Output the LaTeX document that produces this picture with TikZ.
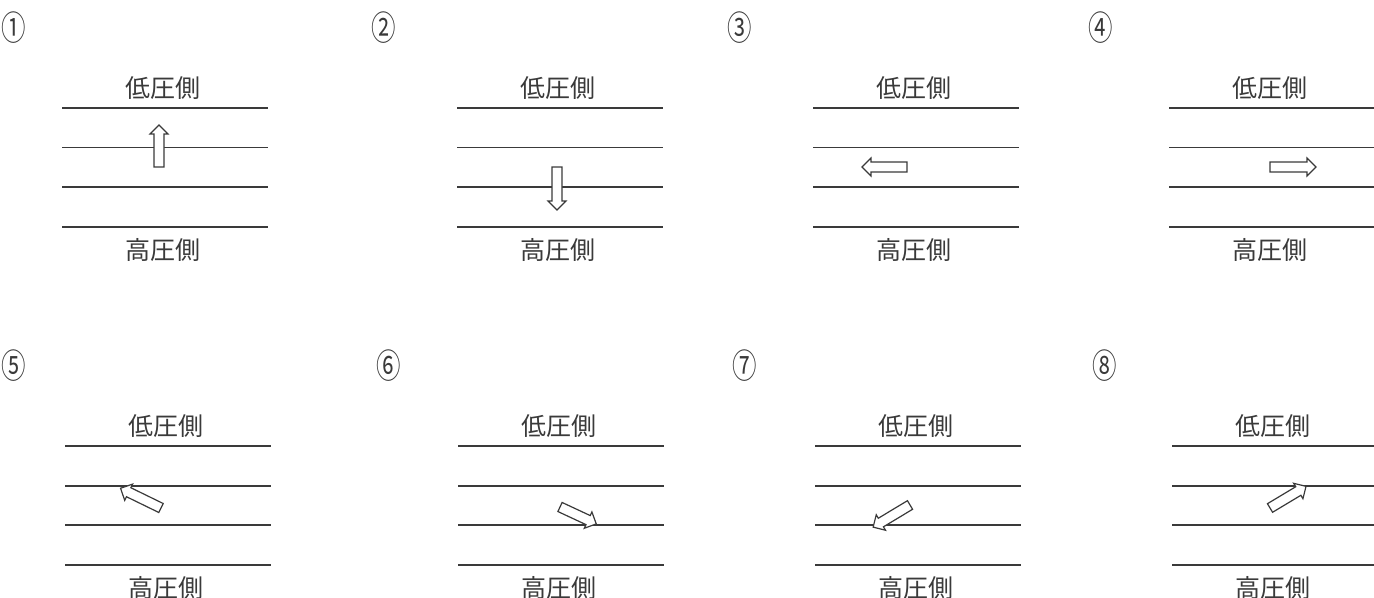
\documentclass[tikz,border=0pt]{standalone}
\usepackage{fontspec}
\newfontfamily\jpfont{Noto Sans CJK JP}
\definecolor{inkGrey}{HTML}{3A3A3A}
\tikzset{
  wall/.style={draw=inkGrey, line width=0.9pt},
  side/.style={font=\jpfont\fontsize{12.5}{14}\selectfont, text=inkGrey, inner sep=0pt},
  casenum/.style={font=\jpfont\fontsize{17}{18}\selectfont, text=inkGrey, xscale=0.72, inner sep=0pt},
  flow/.style={draw=inkGrey, line width=0.6pt, fill=white, line join=miter}
}
% hollow block arrow: tail x, tail y, angle, length
\newcommand{\flowarrow}[4]{%
  \draw[flow, shift={(#1,#2)}, rotate=#3]
    (0,-5) -- ({#4-9},-5) -- ({#4-9},-9) -- (#4,0) -- ({#4-9},9) -- ({#4-9},5) -- (0,5) -- cycle;}
\begin{document}
\begin{tikzpicture}[x=0.5pt, y=-0.5pt]
  \useasboundingbox (0,0) rectangle (1374,598);

  % panels: number, left end of lines, top line, case mark
  \foreach \n/\x/\y/\nx/\mark in {1/62/108/14/①, 2/457/108/384/②, 3/813/108/740/③, 4/1169/108/1101/④,
                                  5/65/446/14/⑤, 6/458/446/389/⑥, 7/815/446/745/⑦, 8/1172/446/1105/⑧} {
    \node[casenum] (num\n) at (\nx,\y-80) {\mark};
    \foreach \k in {0,1,2,3}
      \draw[wall] (\x,\y+39.6*\k) -- (\x+206,\y+39.6*\k);
    \node[side] (lo\n) at (\x+101,\y-20) {低圧側};
    \node[side] (hi\n) at (\x+101,\y+142) {高圧側};
  }

  % flow directions
  \flowarrow{159}{167}{90}{42}
  \flowarrow{557}{167}{-90}{43}
  \flowarrow{907}{167}{180}{45}
  \flowarrow{1270}{167}{0}{46}
  \flowarrow{161}{508}{154}{45}
  \flowarrow{560}{507}{-25}{40}
  \flowarrow{910}{505}{211}{43}
  \flowarrow{1270}{508}{31}{42}
\end{tikzpicture}
\end{document}
